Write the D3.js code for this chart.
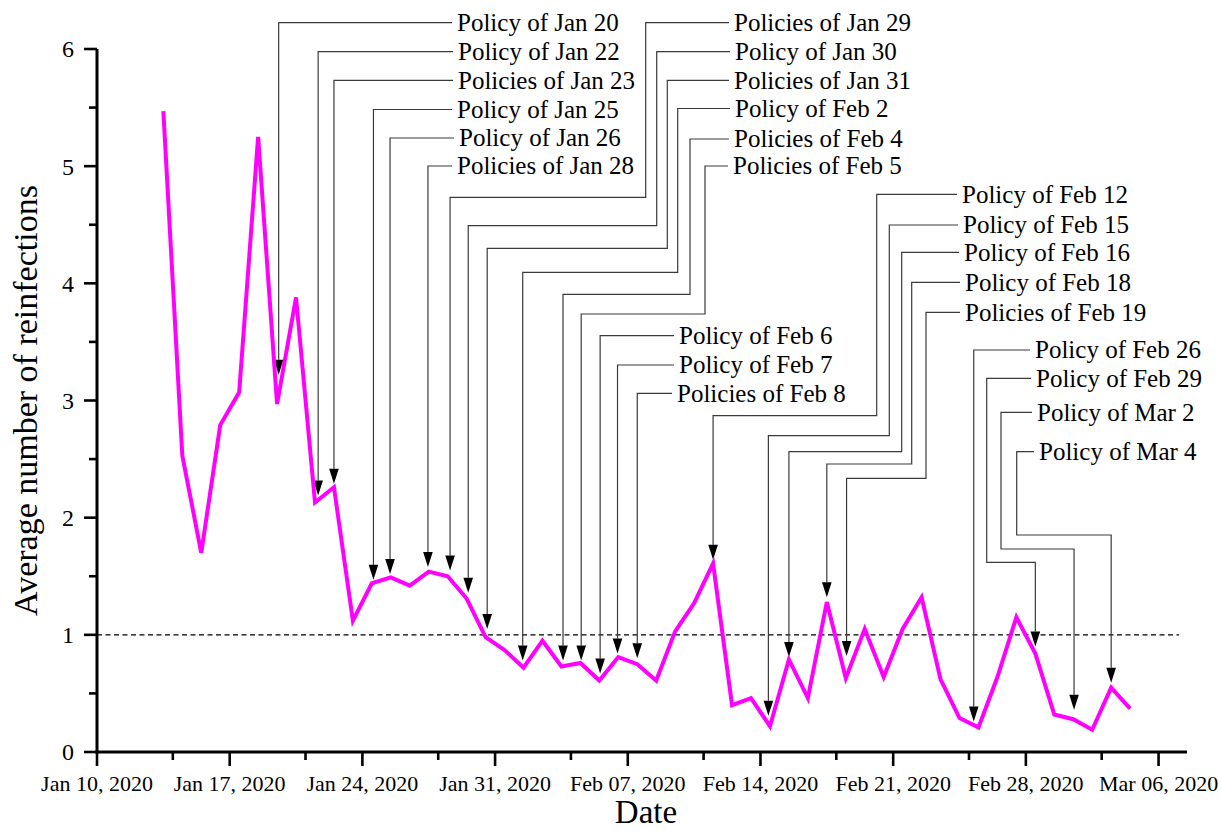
<!DOCTYPE html>
<html>
<head>
<meta charset="utf-8">
<script src="https://cdn.jsdelivr.net/npm/d3@7"></script>
<style>
  body { margin: 0; background: #fff; }
  svg { display: block; font-family: "Liberation Serif", "Times New Roman", serif; }
</style>
</head>
<body>
<svg width="1221" height="831"></svg>
<script>
const width = 1221;
const height = 831;

// daily values, first day Jan 13 2020 (plotted at midday)
const startDate = "2020-01-13";
const values = [
  5.47, 2.53, 1.70, 2.79, 3.07, 5.25, 2.97, 3.88, 2.13, 2.26,
  1.12, 1.44, 1.49, 1.42, 1.54, 1.50, 1.31, 0.98, 0.87, 0.72,
  0.95, 0.73, 0.76, 0.61, 0.81, 0.75, 0.61, 1.03, 1.27, 1.61,
  0.40, 0.46, 0.22, 0.79, 0.46, 1.28, 0.63, 1.05, 0.64, 1.05,
  1.32, 0.62, 0.29, 0.21, 0.64, 1.15, 0.84, 0.32, 0.28, 0.19,
  0.55, 0.37
];

const xTicks = ["2020-01-10", "2020-01-17", "2020-01-24", "2020-01-31", "2020-02-07",
                "2020-02-14", "2020-02-21", "2020-02-28", "2020-03-06"];
const yTicks = [0, 1, 2, 3, 4, 5, 6];
const threshold = 1;

// policy labels, where the arrow lands (time) and arrow tip value
const policyLabels = [
  "Policy of Jan 20", "Policy of Jan 22", "Policies of Jan 23", "Policy of Jan 25",
  "Policy of Jan 26", "Policies of Jan 28", "Policies of Jan 29", "Policy of Jan 30",
  "Policies of Jan 31", "Policy of Feb 2", "Policies of Feb 4", "Policies of Feb 5",
  "Policy of Feb 6", "Policy of Feb 7", "Policies of Feb 8", "Policy of Feb 12",
  "Policy of Feb 15", "Policy of Feb 16", "Policy of Feb 18", "Policies of Feb 19",
  "Policy of Feb 26", "Policy of Feb 29", "Policy of Mar 2", "Policy of Mar 4"
];
const policyArrowAt = [
  "2020-01-19T14:00", "2020-01-21T16:00", "2020-01-22T12:00", "2020-01-24T14:00",
  "2020-01-25T11:00", "2020-01-27T11:00", "2020-01-28T15:00", "2020-01-29T14:00",
  "2020-01-30T14:00", "2020-02-01T11:00", "2020-02-03T14:00", "2020-02-04T13:00",
  "2020-02-05T13:00", "2020-02-06T11:00", "2020-02-07T12:00", "2020-02-11T12:00",
  "2020-02-14T10:00", "2020-02-15T12:00", "2020-02-17T12:00", "2020-02-18T13:00",
  "2020-02-25T06:00", "2020-02-28T12:00", "2020-03-01T13:00", "2020-03-03T12:00"
];
const policyTip = [
  3.22, 2.19, 2.29, 1.47, 1.52, 1.58, 1.55, 1.36, 1.05, 0.78, 0.78, 0.78,
  0.67, 0.84, 0.80, 1.64, 0.31, 0.81, 1.32, 0.82, 0.26, 0.90, 0.36, 0.59
];

// leader routing (pixels): label x, label y, elbow y, knee x (null = straight up)
const leaders = [
  [457, 22.7, null, null], [458, 51.7, null, null], [458, 80.3, null, null],
  [457, 109.5, null, null], [459, 138, null, null], [457, 166, null, null],
  [734, 22.7, 197.3, 645.7], [735, 51.7, 225.7, 656.7], [734, 80.3, 248.3, 667.3],
  [735, 108.5, 272.3, 677.7], [734, 139, 294.3, 690], [733, 166, 314, 705],
  [679, 335.7, null, null], [679, 365, null, null], [677, 393.3, null, null],
  [962, 194.3, 415.7, 876.7], [963, 225, 435.7, 889.3], [964, 252.3, 451.7, 901.7],
  [965, 282.3, 464, 911.7], [965, 312.3, 478.3, 926],
  [1035, 350, null, null], [1036, 378.3, 562.3, 986.7],
  [1037, 412.3, 549, 1001], [1039, 451.7, 535, 1016.7]
];

const parseDay = d3.utcParse("%Y-%m-%d");
const parseTime = d3.utcParse("%Y-%m-%dT%H:%M");
const margin = { left: 97, right: 34, top: 49, bottom: 79 };

const x = d3.scaleUtc()
  .domain([parseDay("2020-01-10"), parseTime("2020-03-07T12:00")])
  .range([margin.left, width - margin.right]);
const y = d3.scaleLinear()
  .domain([0, 6])
  .range([height - margin.bottom, margin.top]);

const svg = d3.select("svg");

const day0 = parseDay(startDate);
const series = values.map((v, i) => ({
  date: d3.utcHour.offset(d3.utcDay.offset(day0, i), 12),
  value: v
}));

// threshold line
svg.append("line")
  .attr("x1", margin.left).attr("x2", x(parseTime("2020-03-07T02:00")))
  .attr("y1", y(threshold)).attr("y2", y(threshold))
  .attr("stroke", "#000").attr("stroke-width", 1.3)
  .attr("stroke-dasharray", "5,3.5");

// leaders + arrows
const policies = policyLabels.map((label, i) => ({
  label,
  at: parseTime(policyArrowAt[i]),
  tip: policyTip[i],
  lx: leaders[i][0], ly: leaders[i][1], elbow: leaders[i][2], knee: leaders[i][3]
}));

const ann = svg.append("g");
const arrowH = 15, arrowW = 4.8;
policies.forEach(p => {
  const ax = x(p.at);
  const ty = y(p.tip);
  let d = `M${ax},${ty - arrowH}`;
  if (p.elbow !== null) {
    d += `V${p.elbow}H${p.knee}V${p.ly}`;
  } else {
    d += `V${p.ly}`;
  }
  d += `H${p.lx - 5}`;
  ann.append("path")
    .attr("d", d)
    .attr("fill", "none")
    .attr("stroke", "#3a3a3a")
    .attr("stroke-width", 1.2);
  ann.append("path")
    .attr("d", `M${ax},${ty}L${ax - arrowW},${ty - arrowH}L${ax + arrowW},${ty - arrowH}Z`)
    .attr("fill", "#000");
  ann.append("text")
    .attr("x", p.lx).attr("y", p.ly)
    .attr("dy", "0.33em")
    .attr("font-size", 25)
    .attr("fill", "#000")
    .text(p.label);
});

// series line
svg.append("path")
  .datum(series)
  .attr("fill", "none")
  .attr("stroke", "#ff00ff")
  .attr("stroke-width", 4)
  .attr("stroke-linejoin", "miter")
  .attr("d", d3.line().x(d => x(d.date)).y(d => y(d.value)));

// axes
const xMinor = xTicks.map(t => d3.utcDay.offset(parseDay(t), 4)).filter(d => d < x.domain()[1]);
const yMinor = d3.range(0.5, 6, 1);

const xAxisG = svg.append("g")
  .attr("transform", `translate(0,${y(0)})`);
xAxisG.append("line")
  .attr("x1", margin.left - 1.5).attr("x2", x.range()[1])
  .attr("stroke", "#000").attr("stroke-width", 3);
xAxisG.selectAll(".major").data(xTicks.map(parseDay)).join("line")
  .attr("x1", d => x(d)).attr("x2", d => x(d))
  .attr("y1", 0).attr("y2", 14)
  .attr("stroke", "#000").attr("stroke-width", 2.6);
xAxisG.selectAll(".minor").data(xMinor).join("line")
  .attr("x1", d => x(d)).attr("x2", d => x(d))
  .attr("y1", 0).attr("y2", 8)
  .attr("stroke", "#000").attr("stroke-width", 2.6);
const fmt = d3.utcFormat("%b %d, %Y");
xAxisG.selectAll(".lbl").data(xTicks.map(parseDay)).join("text")
  .attr("x", d => x(d)).attr("y", 39)
  .attr("text-anchor", "middle")
  .attr("font-size", 22)
  .text(d => fmt(d));

const yAxisG = svg.append("g")
  .attr("transform", `translate(${margin.left},0)`);
yAxisG.append("line")
  .attr("y1", y(6)).attr("y2", y(0) + 1.5)
  .attr("stroke", "#000").attr("stroke-width", 3);
yAxisG.selectAll(".major").data(yTicks).join("line")
  .attr("x1", -13).attr("x2", 0)
  .attr("y1", d => y(d)).attr("y2", d => y(d))
  .attr("stroke", "#000").attr("stroke-width", 2.6);
yAxisG.selectAll(".minor").data(yMinor).join("line")
  .attr("x1", -8).attr("x2", 0)
  .attr("y1", d => y(d)).attr("y2", d => y(d))
  .attr("stroke", "#000").attr("stroke-width", 2.6);
yAxisG.selectAll(".lbl").data(yTicks).join("text")
  .attr("x", -23).attr("y", d => y(d))
  .attr("dy", "0.35em")
  .attr("text-anchor", "end")
  .attr("font-size", 24)
  .text(d => d);

// axis titles
svg.append("text")
  .attr("x", (margin.left + x.range()[1]) / 2 + 4).attr("y", 823)
  .attr("text-anchor", "middle")
  .attr("font-size", 33)
  .text("Date");
svg.append("text")
  .attr("transform", `translate(37,${(y(0) + y(6)) / 2}) rotate(-90)`)
  .attr("text-anchor", "middle")
  .attr("font-size", 34)
  .text("Average number of reinfections");
</script>
</body>
</html>
